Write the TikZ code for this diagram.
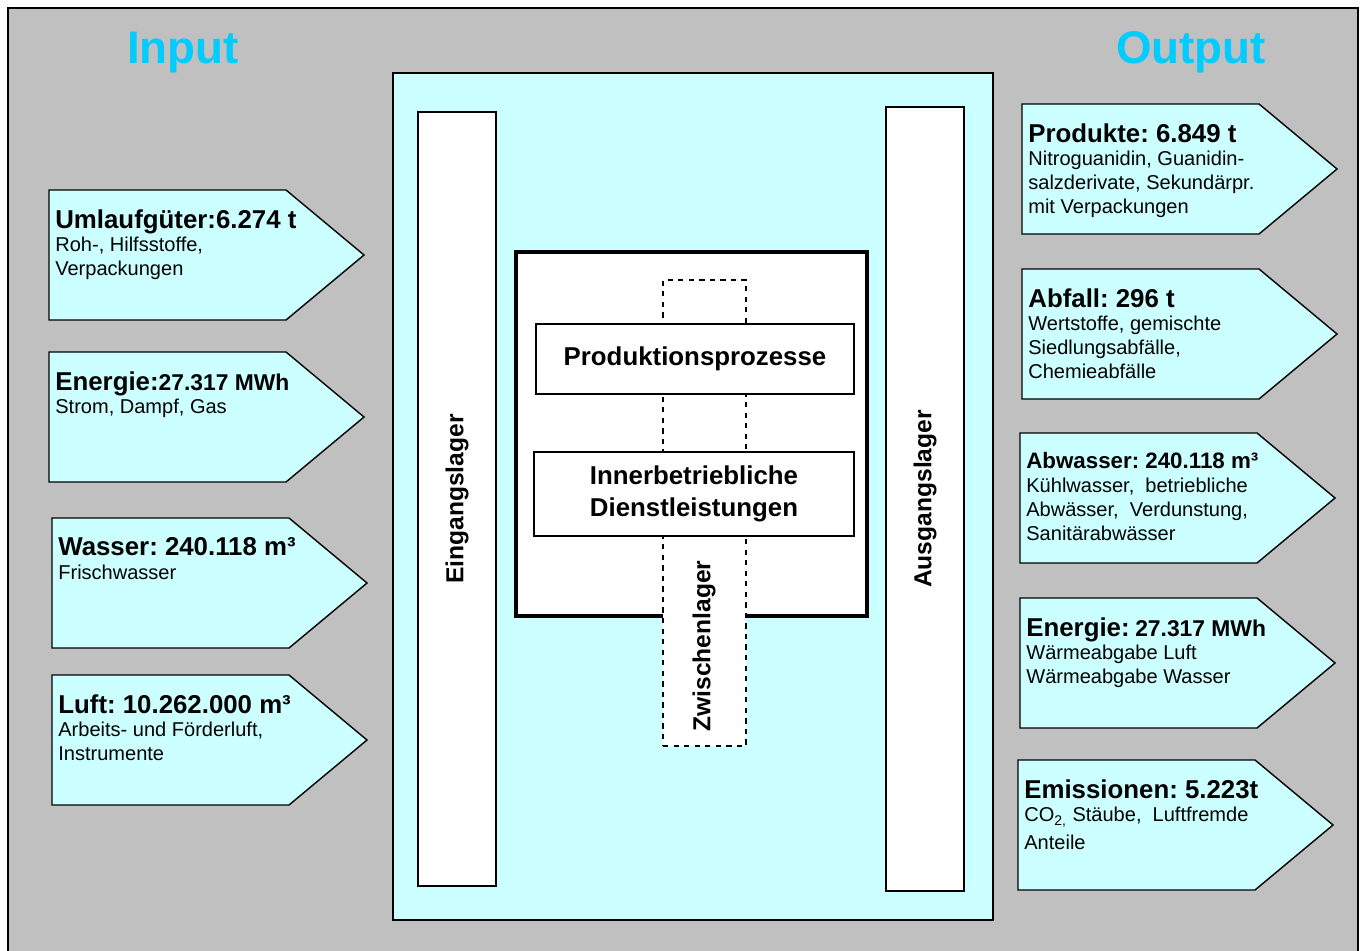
\documentclass[tikz,border=0pt]{standalone}
\usepackage{fontspec}
\setmainfont{Liberation Sans}
\frenchspacing
\usetikzlibrary{positioning}
\definecolor{framegray}{HTML}{C0C0C0}
\definecolor{lightcyan}{HTML}{CCFFFF}
\definecolor{headcyan}{HTML}{00CCFF}
\tikzstyle{flow} = [draw=black, line width=0.8pt, fill=lightcyan]
\tikzstyle{flowtext} = [anchor=north west, align=left, inner sep=0pt, font=\fontsize{11.4}{13.6}\selectfont]
\tikzstyle{store} = [draw=black, line width=0.7pt, fill=white, rotate=90, font=\bfseries\fontsize{14}{17}\selectfont]
\tikzstyle{proc} = [draw=black, line width=0.7pt, fill=white, align=center, font=\bfseries\fontsize{14.7}{18}\selectfont]
\tikzstyle{headline} = [anchor=base, text=headcyan, font=\bfseries\fontsize{26}{30}\selectfont]
\newcommand{\flowhead}[1]{{\bfseries\fontsize{14.7}{13.6}\selectfont #1}}
\newcommand{\flowsmall}[1]{{\bfseries\fontsize{13}{13.6}\selectfont #1}}
% #1,#2 = upper left corner, #3 = node name, #4 = text
\newcommand{\flowbox}[4]{%
  \filldraw[flow] (#1,#2) -- ++(237,0) -- ++(78,65) -- ++(-78,65) -- ++(-237,0) -- cycle;
  \node[flowtext] (#3) at (#1+6,#2+19) {#4};}

\begin{document}
\begin{tikzpicture}[x=0.02cm, y=-0.02cm]
	\useasboundingbox (0,0) rectangle (1365,950);
	\filldraw[fill=framegray, draw=black, line width=1.1pt] (8,8) rectangle (1358,980);
	\node (input) [headline] at (183,63) {Input};
	\node (output) [headline] at (1191,63) {Output};
	% Input
	\flowbox{49}{190}{umlauf}{\flowhead{Umlaufgüter:6.274 t}\\Roh-, Hilfsstoffe,\\Verpackungen}
	\flowbox{49}{352}{energiein}{\flowhead{Energie:}\flowsmall{27.317 MWh}\\Strom, Dampf, Gas}
	\flowbox{52}{518}{wasser}{\flowhead{Wasser: 240.118 m³}\\Frischwasser}
	\flowbox{52}{675}{luft}{\flowhead{Luft: 10.262.000 m³}\\Arbeits- und Förderluft,\\Instrumente}
	% Output
	\flowbox{1022}{104}{produkte}{\flowhead{Produkte: 6.849 t}\\Nitroguanidin, Guanidin-\\salzderivate, Sekundärpr.\\mit Verpackungen}
	\flowbox{1022}{269}{abfall}{\flowhead{Abfall: 296 t}\\Wertstoffe, gemischte\\Siedlungsabfälle,\\Chemieabfälle}
	\flowbox{1020}{433}{abwasser}{{\bfseries\fontsize{12.7}{13.6}\selectfont Abwasser: 240.118 m³}\\Kühlwasser,\ \ betriebliche\\Abwässer,\ \ Verdunstung,\\Sanitärabwässer}
	\flowbox{1020}{598}{energieout}{\flowhead{Energie:} \flowsmall{27.317 MWh}\\Wärmeabgabe Luft\\Wärmeabgabe Wasser}
	\flowbox{1018}{760}{emission}{\flowhead{Emissionen: 5.223t}\\CO\textsubscript{2,} Stäube,\ \ Luftfremde\\[2.3pt]Anteile}
	% Betrieb
	\node (betrieb) [draw=black, line width=0.8pt, fill=lightcyan, minimum width=12cm, minimum height=16.94cm] at (693,496.5) {};
	\node (eingang) [store, minimum width=15.48cm, minimum height=1.56cm] at (457,499) {Eingangslager};
	\node (ausgang) [store, minimum width=15.68cm, minimum height=1.56cm] at (925,499) {Ausgangslager};
	\node (anlage) [draw=black, line width=2.2pt, fill=white, minimum width=7.02cm, minimum height=7.28cm] at (691.5,434) {};
	\node (zwischen) [draw=black, dashed, line width=0.7pt, fill=white, minimum width=1.66cm, minimum height=9.32cm] at (704.5,513) {};
	\node (zwtext) [rotate=90, font=\bfseries\fontsize{14}{17}\selectfont] at (704,646) {Zwischenlager};
	\node (prod) [proc, minimum width=6.36cm, minimum height=1.4cm] at (695,359) {Produktionsprozesse};
	\node (dienst) [proc, minimum width=6.4cm, minimum height=1.68cm] at (694,494) {Innerbetriebliche\\Dienstleistungen};
\end{tikzpicture}
\end{document}
